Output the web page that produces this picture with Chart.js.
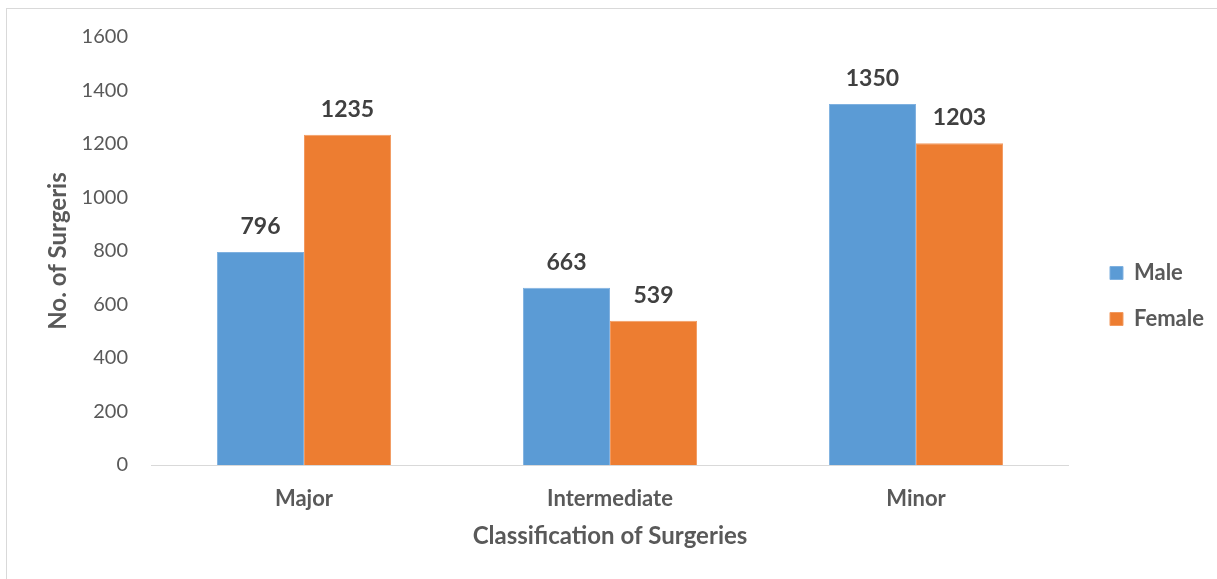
<!DOCTYPE html>
<html>
<head>
<meta charset="utf-8">
<script src="https://cdn.jsdelivr.net/npm/chart.js@4"></script>
<style>
  body { margin: 0; background: #fff; }
  #frame { position: absolute; left: 6px; top: 8px; right: 0; bottom: -4px; border-left: 1px solid #d9d9d9; border-top: 1px solid #d9d9d9; }
  #wrap { position: absolute; left: 0; top: 0; width: 1217px; height: 579px; }
</style>
</head>
<body>
<div id="frame"></div>
<div id="wrap"><canvas id="chart"></canvas></div>
<script>
// data
const categories = ["Major", "Intermediate", "Minor"];
const maleValues = [796, 663, 1350];
const femaleValues = [1235, 539, 1203];
const yTicks = [0, 200, 400, 600, 800, 1000, 1200, 1400, 1600];

const FONT = "Lato, 'Open Sans', sans-serif";

// value labels above the bars
const barLabels = {
  id: "barLabels",
  afterDatasetsDraw(chart) {
    const ctx = chart.ctx;
    ctx.save();
    ctx.font = "bold 23px " + FONT;
    ctx.fillStyle = "#404040";
    ctx.textAlign = "center";
    ctx.textBaseline = "bottom";
    chart.data.datasets.forEach((ds, i) => {
      chart.getDatasetMeta(i).data.forEach((bar, j) => {
        ctx.fillText(ds.data[j], bar.x, bar.y - 14);
      });
    });
    ctx.restore();
  }
};

// push the legend a bit further from the plot, like the original
const legendShift = {
  id: "legendShift",
  afterLayout(chart) {
    chart.legend.left += 17;
    chart.legend.right += 17;
  }
};

new Chart(document.getElementById("chart"), {
  type: "bar",
  data: {
    labels: categories,
    datasets: [
      { label: "Male", data: maleValues, backgroundColor: "#5b9bd5", borderColor: "#7fb1e0", borderWidth: 1 },
      { label: "Female", data: femaleValues, backgroundColor: "#ed7d31", borderColor: "#f29a60", borderWidth: 1 }
    ]
  },
  options: {
    responsive: true,
    maintainAspectRatio: false,
    animation: false,
    layout: { padding: { top: 37, right: 20, bottom: 24, left: 0 } },
    plugins: {
      legend: {
        position: "right",
        labels: {
          boxWidth: 13,
          boxHeight: 13,
          padding: 24,
          color: "#595959",
          font: { family: FONT, size: 22, weight: "bold" }
        }
      },
      tooltip: { enabled: false }
    },
    datasets: { bar: { categoryPercentage: 0.569, barPercentage: 1 } },
    scales: {
      x: {
        grid: { display: false },
        border: { display: true, color: "#d9d9d9", width: 1 },
        ticks: { color: "#595959", padding: 13, font: { family: FONT, size: 22, weight: "bold" } },
        title: {
          display: true,
          text: "Classification of Surgeries",
          color: "#595959",
          padding: { top: 0, bottom: 4 },
          font: { family: FONT, size: 24, weight: "bold" }
        },
        afterFit: s => { s.height = 90; }
      },
      y: {
        min: 0,
        max: 1600,
        afterBuildTicks: s => { s.ticks = yTicks.map(v => ({ value: v })); },
        grid: { display: false, drawTicks: false },
        border: { display: false },
        ticks: { color: "#595959", padding: 23, font: { family: FONT, size: 20 }, callback: v => String(v) },
        title: {
          display: true,
          text: "No. of Surgeris",
          color: "#595959",
          padding: { top: 44, bottom: 0 },
          font: { family: FONT, size: 24, weight: "bold" }
        },
        afterFit: s => { s.width = 151; }
      }
    }
  },
  plugins: [barLabels, legendShift]
});
</script>
</body>
</html>
